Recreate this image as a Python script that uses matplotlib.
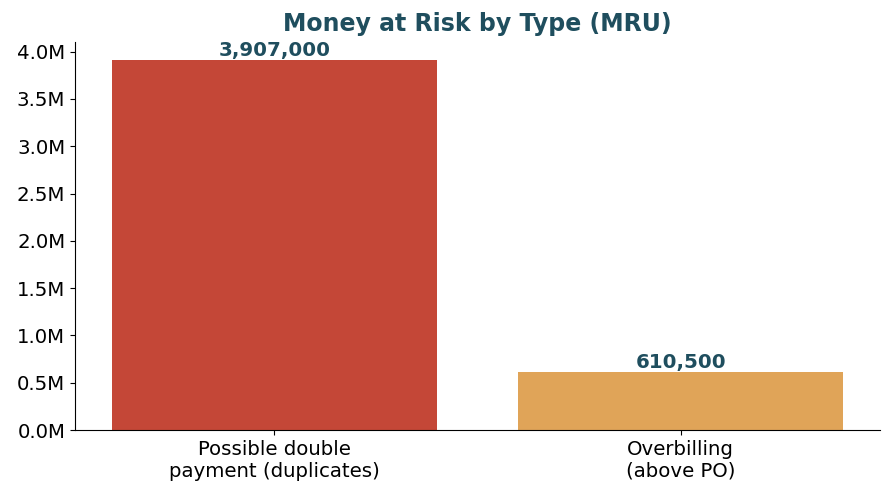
import matplotlib
matplotlib.use("Agg")
import matplotlib.pyplot as plt
from matplotlib.ticker import FuncFormatter

categories = ["Possible double\npayment (duplicates)", "Overbilling\n(above PO)"]
values = [3907000, 610500]
colors = ["#C44737", "#E0A458"]
title_color = "#1F4E5E"

fig = plt.figure(figsize=(8.93, 5.03), dpi=100)
ax = fig.add_axes([75/893, 1-430/503, 805/893, 388/503])
x = range(len(categories))
bars = ax.bar(x, values, color=colors, width=0.8)
ax.set_ylim(0, max(values) * 1.05)
ax.set_xticks(list(x))
ax.set_xticklabels(categories, fontsize=14.2)
ax.yaxis.set_major_formatter(FuncFormatter(lambda v, p: f"{v/1e6:.1f}M"))
ax.tick_params(axis="y", labelsize=14.2)
for s in ["top", "right"]:
    ax.spines[s].set_visible(False)
for b, v in zip(bars, values):
    ax.text(b.get_x() + b.get_width()/2, v, f"{v:,}", ha="center", va="bottom",
            fontsize=14.3, fontweight="bold", color=title_color)
ax.set_title("Money at Risk by Type (MRU)", fontsize=17, fontweight="bold", color=title_color, pad=8)
fig.savefig("out.png", dpi=100)
